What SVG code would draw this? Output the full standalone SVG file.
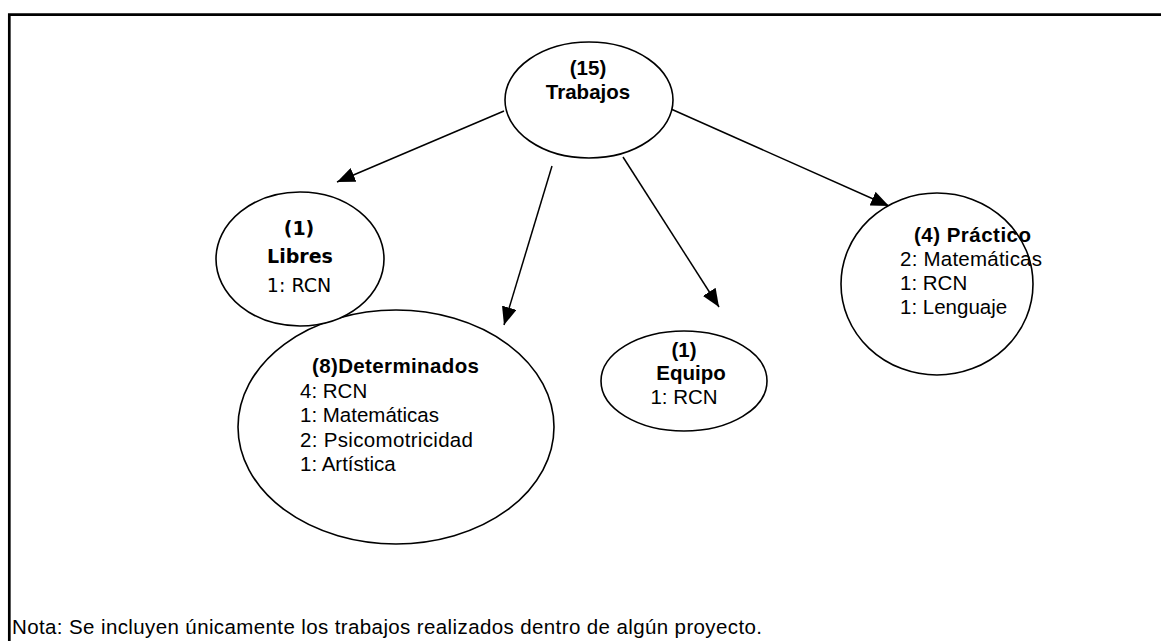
<svg xmlns="http://www.w3.org/2000/svg" width="1161" height="641" viewBox="0 0 1161 641">
<style>
.n{fill:#fff;stroke:#000;stroke-width:1.6}
.t{font-family:"Liberation Sans",Arial,sans-serif;font-size:20.5px;fill:#000}
.b{font-weight:bold}
.c{text-anchor:middle}
.cm{font-family:"Comic Sans MS","DejaVu Sans",sans-serif;font-size:19px;fill:#000;text-anchor:middle}
.e{stroke:#000;stroke-width:1.5;fill:none}
</style>
<defs>
<marker id="ah" markerUnits="userSpaceOnUse" markerWidth="19" markerHeight="15" refX="18" refY="7.5" orient="auto">
<path d="M0,0 L18,7.5 L0,15 Z" fill="#000"/>
</marker>
</defs>
<rect width="1161" height="641" fill="#fff"/>
<path d="M9.3,641 V14.7 H1161" fill="none" stroke="#000" stroke-width="2.7"/>
<g id="connectors">
<line class="e" x1="504" y1="111" x2="337" y2="182" marker-end="url(#ah)"/>
<line class="e" x1="552" y1="166" x2="504" y2="325" marker-end="url(#ah)"/>
<line class="e" x1="623" y1="157" x2="719" y2="307" marker-end="url(#ah)"/>
<line class="e" x1="671" y1="109" x2="889" y2="206" marker-end="url(#ah)"/>
</g>
<g id="trabajos">
<ellipse class="n" cx="589" cy="100" rx="84" ry="58"/>
<text class="t b c" x="588" y="75">(15)</text>
<text class="t b c" x="588" y="99">Trabajos</text>
</g>
<g id="determinados">
<ellipse class="n" cx="396" cy="427" rx="158" ry="117"/>
<text class="t b" x="312" y="373" textLength="167">(8)Determinados</text>
<text class="t" x="300" y="397.5">4: RCN</text>
<text class="t" x="300" y="421.5">1: Matemáticas</text>
<text class="t" x="300" y="446.5" textLength="173">2: Psicomotricidad</text>
<text class="t" x="300" y="470.5">1: Artística</text>
</g>
<g id="libres">
<ellipse class="n" cx="300" cy="259" rx="84" ry="67"/>
<text class="cm" x="299" y="235" font-weight="bold">(1)</text>
<text class="cm" x="300" y="263" font-weight="bold">Libres</text>
<text class="cm" x="299" y="292">1: RCN</text>
</g>
<g id="equipo">
<ellipse class="n" cx="684" cy="381" rx="83" ry="50"/>
<text class="t b c" x="684" y="357">(1)</text>
<text class="t b c" x="691" y="380">Equipo</text>
<text class="t c" x="684" y="404">1: RCN</text>
</g>
<g id="practico">
<ellipse class="n" cx="937" cy="284" rx="96" ry="91"/>
<text class="t b" x="914" y="242" textLength="117">(4) Práctico</text>
<text class="t" x="900" y="266" textLength="142">2: Matemáticas</text>
<text class="t" x="900" y="290">1: RCN</text>
<text class="t" x="900" y="314">1: Lenguaje</text>
</g>
<text class="t" x="12" y="634" textLength="750">Nota: Se incluyen únicamente los trabajos realizados dentro de algún proyecto.</text>
</svg>
